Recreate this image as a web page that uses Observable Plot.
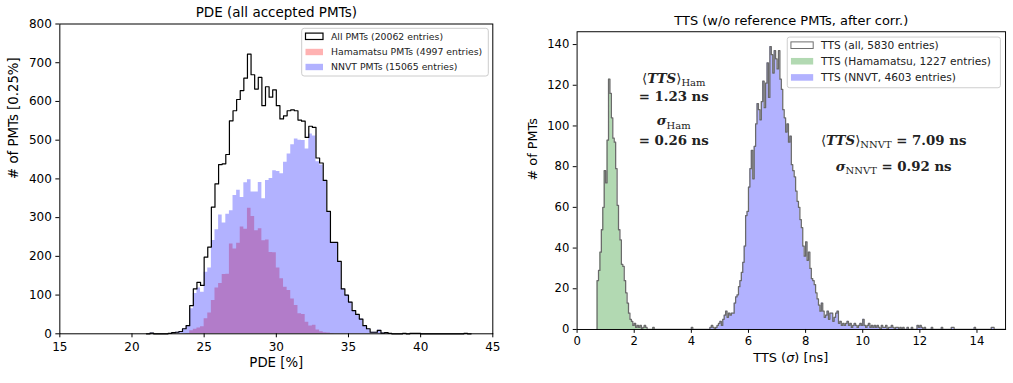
<!DOCTYPE html>
<html><head><meta charset="utf-8">
<script src="https://cdn.jsdelivr.net/npm/d3@7"></script>
<script src="https://cdn.jsdelivr.net/npm/@observablehq/plot@0.6"></script>
<style>
html,body{margin:0;padding:0;background:#fff;overflow:hidden;}
#wrap{position:relative;width:1013px;height:383px;overflow:hidden;}
#left,#right{position:absolute;top:0;}
#left{left:0;} #right{left:505px;}
</style></head><body><div id="wrap"><div id="left"></div><div id="right"></div></div>
<script>
// ---------------- data ----------------
// PDE histogram, bins of 0.25 % starting at 21.0 %
const pdeBinStart = 21.0;
const pdeBinWidth = 0.25;
const pdeHam = [
  0,0,0,0,0,0,0,0,0,0,
  0,1,8,12,15,18,39,54,86,118,
  130,153,154,232,219,234,276,270,324,303,
  266,271,240,242,210,209,170,142,120,112,
  90,73,52,50,30,20,22,10,5,3,
  2,1,0,0,0,0,0,0,0,0,
  0,0,0,0,0,0,0,0,0,0,
  0,0,0,0,0,0,0,0,0,0,
  0,0,0,0,0,0,0,0,0,0
];
const pdeNnvt = [
  0,2,0,0,0,0,1,3,4,6,
  13,20,65,104,118,107,159,170,241,269,
  307,286,309,318,357,371,352,390,398,366,
  366,391,349,396,401,421,419,413,443,464,
  488,503,500,499,477,516,511,444,436,393,
  314,235,236,187,116,100,82,60,50,38,
  21,13,4,4,9,2,3,1,0,0,
  0,1,0,1,1,1,0,0,0,0,
  0,0,0,0,0,0,0,0,1,0
];
// TTS histogram, bins of 0.05 ns
const ttsBinWidth = 0.05;
const ttsHamStart = 0.70;
const ttsHam = [
  24,29,38,49,60,78,72,93,123,116,
  104,94,92,79,61,49,44,32,31,24,
  18,13,8,5,4,2,3,1,2,1,
  2,0,1,2,1,0,0,0,0,1
];
const ttsNnvtStart = 4.00;
const ttsNnvt = [
  1,0,0,0,0,0,0,0,0,0,
  0,0,0,1,2,1,0,1,2,3,
  4,2,5,7,9,6,8,7,8,8,
  13,16,17,21,24,28,33,41,56,58,
  70,79,88,74,90,101,111,108,103,112,
  122,109,121,131,114,139,135,126,137,133,
  128,137,123,118,108,104,97,101,92,95,
  81,78,75,68,63,60,54,50,41,36,
  43,34,38,30,25,24,22,18,15,12,
  9,13,9,6,7,9,5,8,8,4,
  6,8,9,3,4,2,3,2,3,4,
  2,3,1,2,3,2,1,2,3,2,
  5,2,1,2,3,1,2,1,2,1,
  2,1,0,2,1,1,2,0,1,1,
  2,1,0,1,1,0,1,0,1,0,
  0,1,0,0,1,0,0,0,2,1,
  2,1,0,1,0,0,0,0,1,0,
  0,0,0,0,0,1,0,0,0,0,
  0,0,1,1,0,0,0,0,0,0,
  0,0,0,0,0,0,0,0,1,0,
  0,0,0,0,0,0,0,0,0,0,
  1,1,0,0,0,0,0,0,0,0
];
const pdeXTicks = [15,20,25,30,35,40,45];
const pdeYTicks = [0,100,200,300,400,500,600,700,800];
const ttsXTicks = [0,2,4,6,8,10,12,14];
const ttsYTicks = [0,20,40,60,80,100,120,140];
const pdeLegend = ["All PMTs (20062 entries)","Hamamatsu PMTs (4997 entries)","NNVT PMTs (15065 entries)"];
const ttsLegend = ["TTS (all, 5830 entries)","TTS (Hamamatsu, 1227 entries)","TTS (NNVT, 4603 entries)"];
const ttsNotes = [
  {x: 3.4, y: 121.0, parts: [["⟨",""],["TTS","bi"],["⟩",""],["Ham","sub"]]},
  {x: 3.4, y: 112.0, parts: [["= 1.23 ns","b"]]},
  {x: 3.4, y: 100.0, parts: [["σ","bi"],["Ham","sub"]]},
  {x: 3.4, y: 90.6,  parts: [["= 0.26 ns","b"]]},
  {x: 11.1, y: 90.6, parts: [["⟨",""],["TTS","bi"],["⟩",""],["NNVT","sub"],[" = 7.09 ns","b"]]},
  {x: 11.1, y: 77.8, parts: [["σ","bi"],["NNVT","sub"],[" = 0.92 ns","b"]]}
];

// ---------------- helpers ----------------
function outline(start, width, counts) {
  const pts = [{x: start, y: 0}];
  counts.forEach((c, i) => {
    const x1 = start + i * width, x2 = start + (i + 1) * width;
    pts.push({x: x1, y: c}, {x: x2, y: c});
  });
  pts.push({x: start + counts.length * width, y: 0});
  return pts;
}
const pdeAll = pdeHam.map((h, i) => h + pdeNnvt[i]);
const ttsEnd = ttsNnvtStart + ttsNnvt.length * ttsBinWidth;
const nAll = Math.round((ttsEnd - ttsHamStart) / ttsBinWidth);
const ttsAll = Array.from({length: nAll}, () => 0);
ttsHam.forEach((c, i) => { ttsAll[i] += c; });
const off = Math.round((ttsNnvtStart - ttsHamStart) / ttsBinWidth);
ttsNnvt.forEach((c, i) => { ttsAll[i + off] += c; });

const FONT = "DejaVu Sans";
const fillHist = (start, width, counts, color) =>
  Plot.area(outline(start, width, counts), {x1: "x", y1: 0, y2: "y", fill: color, fillOpacity: 0.3});

// ---------------- left: PDE ----------------
const left = Plot.plot({
  width: 505, height: 383,
  marginLeft: 59.33, marginRight: 12.7, marginTop: 23.5, marginBottom: 49.7,
  style: {fontFamily: FONT, fontSize: "12px", color: "black", background: "white", overflow: "visible"},
  x: {domain: [15, 45]},
  y: {domain: [0, 800]},
  marks: [
    fillHist(pdeBinStart, pdeBinWidth, pdeHam, "red"),
    fillHist(pdeBinStart, pdeBinWidth, pdeNnvt, "blue"),
    Plot.line(outline(pdeBinStart, pdeBinWidth, pdeAll), {x: "x", y: "y", stroke: "black", strokeWidth: 1.2}),
    Plot.frame({stroke: "black", strokeWidth: 1}),
    Plot.axisX({ticks: pdeXTicks, tickSize: 4, tickPadding: 5, label: null}),
    Plot.axisY({ticks: pdeYTicks, tickSize: 4, tickPadding: 4, label: null}),
    Plot.text(["PDE (all accepted PMTs)"], {text: d => d, frameAnchor: "top", dy: -11, fontSize: 13.5, lineAnchor: "middle"}),
    Plot.text(["PDE [%]"], {text: d => d, frameAnchor: "bottom", dy: 29.4, fontSize: 13.3, lineAnchor: "middle"}),
    Plot.text(["# of PMTs [0.25%]"], {text: d => d, frameAnchor: "left", dx: -46, rotate: -90, fontSize: 13.3, lineAnchor: "middle"})
  ]
});
document.getElementById("left").appendChild(left);

{
  const g = d3.select(left).append("g").attr("font-family", FONT).attr("font-size", 9.3).attr("text-anchor", "start");
  g.append("rect").attr("x", 301.7).attr("y", 28.3).attr("width", 186.6).attr("height", 47.7)
    .attr("rx", 2.5).attr("fill", "white").attr("fill-opacity", 0.8).attr("stroke", "#cccccc");
  const rows = [36.3, 52.0, 67.0];
  const patch = [
    {fill: "white", op: 1, stroke: "black"},
    {fill: "red", op: 0.3, stroke: "none"},
    {fill: "blue", op: 0.3, stroke: "none"}
  ];
  pdeLegend.forEach((t, i) => {
    g.append("rect").attr("x", 305.5).attr("y", rows[i] - 3.2).attr("width", 17.5).attr("height", 6.4)
      .attr("fill", patch[i].fill).attr("fill-opacity", patch[i].op).attr("stroke", patch[i].stroke).attr("stroke-width", 1.2);
    g.append("text").attr("x", 331).attr("y", rows[i] + 3.3).attr("text-anchor", "start").attr("fill", "#222").text(t);
  });
}

// ---------------- right: TTS ----------------
const right = Plot.plot({
  width: 525, height: 383,
  marginLeft: 74, marginRight: 8.2, marginTop: 32.3, marginBottom: 43,
  style: {fontFamily: FONT, fontSize: "12px", color: "black", background: "white", overflow: "visible"},
  x: {domain: [0, 15]},
  y: {domain: [0, 146.3]},
  marks: [
    fillHist(ttsHamStart, ttsBinWidth, ttsHam, "green"),
    fillHist(ttsNnvtStart, ttsBinWidth, ttsNnvt, "blue"),
    Plot.line(outline(ttsHamStart, ttsBinWidth, ttsAll), {x: "x", y: "y", stroke: "#6a6a6a", strokeWidth: 1.3}),
    Plot.frame({stroke: "black", strokeWidth: 1}),
    Plot.axisX({ticks: ttsXTicks, tickSize: 4, tickPadding: 3.5, label: null}),
    Plot.axisY({ticks: ttsYTicks, tickSize: 4, tickPadding: 4, label: null}),
    Plot.text(["TTS (w/o reference PMTs, after corr.)"], {text: d => d, frameAnchor: "top", dy: -11.6, fontSize: 13.4, lineAnchor: "middle"}),
    Plot.text(["# of PMTs"], {text: d => d, frameAnchor: "left", dx: -46, rotate: -90, fontSize: 13.3, lineAnchor: "middle"})
  ]
});
document.getElementById("right").appendChild(right);

{
  const svg = d3.select(right);
  const sx = right.scale("x"), sy = right.scale("y");
  const cx = (sx.range[0] + sx.range[1]) / 2;
  const xl = svg.append("text").attr("x", cx).attr("y", sy.range[0] + 34.6)
    .attr("text-anchor", "middle").attr("font-family", FONT).attr("font-size", 13.3).attr("fill", "black");
  xl.append("tspan").text("TTS (");
  xl.append("tspan").attr("font-style", "italic").text("σ");
  xl.append("tspan").text(") [ns]");

  const ng = svg.append("g").attr("font-family", "DejaVu Serif").attr("font-size", 13.8).attr("fill", "#222");
  ttsNotes.forEach(n => {
    const t = ng.append("text").attr("x", sx.apply(n.x)).attr("y", sy.apply(n.y)).attr("text-anchor", "middle");
    let shifted = false;
    n.parts.forEach(([s, k]) => {
      const ts = t.append("tspan").text(s);
      if (k === "sub") {
        ts.attr("font-size", 10.3).attr("dy", 3.5);
        shifted = true;
      } else {
        if (shifted) { ts.attr("dy", -3.5); shifted = false; }
        if (k === "b" || k === "bi") ts.attr("font-weight", "bold");
        if (k === "bi") ts.attr("font-style", "italic");
      }
    });
  });

  const g = svg.append("g").attr("font-family", FONT).attr("font-size", 11).attr("text-anchor", "start");
  g.append("rect").attr("x", 291.7).attr("y", 38.3).attr("width", 220.3).attr("height", 52.4)
    .attr("rx", 2.5).attr("fill", "white").attr("fill-opacity", 0.8).attr("stroke", "#cccccc");
  const rows = [46.7, 63.3, 80.0];
  const patch = [
    {fill: "white", op: 1, stroke: "#6a6a6a"},
    {fill: "green", op: 0.3, stroke: "none"},
    {fill: "blue", op: 0.3, stroke: "none"}
  ];
  ttsLegend.forEach((t, i) => {
    g.append("rect").attr("x", 295.5).attr("y", rows[i] - 3.4).attr("width", 23).attr("height", 6.8)
      .attr("fill", patch[i].fill).attr("fill-opacity", patch[i].op).attr("stroke", patch[i].stroke).attr("stroke-width", 1);
    g.append("text").attr("x", 326.7).attr("y", rows[i] + 4).attr("text-anchor", "start").attr("fill", "#222").text(t);
  });
}
</script></body></html>
